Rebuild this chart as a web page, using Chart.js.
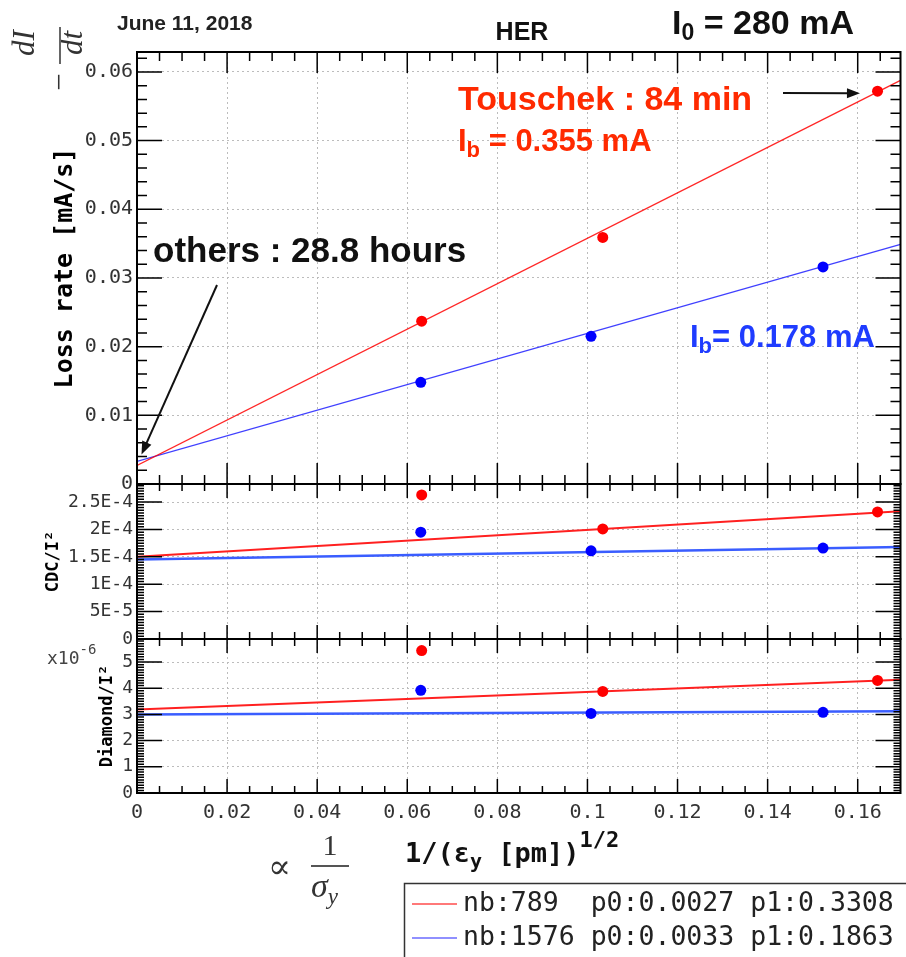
<!DOCTYPE html>
<html>
<head>
<meta charset="utf-8">
<title>HER loss rate</title>
<script src="https://cdn.jsdelivr.net/npm/chart.js@4.4.1/dist/chart.umd.min.js"></script>
<style>
  html, body { margin: 0; padding: 0; background: #fff; }
  canvas { display: block; }
</style>
</head>
<body>
<canvas id="lossChart" width="906" height="957"></canvas>
<script>
// x axis: 1/sqrt(eps_y [pm])
const xMax = 0.1695;
const xTicks = [0, 0.02, 0.04, 0.06, 0.08, 0.1, 0.12, 0.14, 0.16];

// measured points, Ib = 0.355 mA (red) and Ib = 0.178 mA (blue)
const redX = [0.0632, 0.1034, 0.1644];
const blueX = [0.0630, 0.1008, 0.1523];

// loss rate [mA/s]
const lossRed = [0.0237, 0.0359, 0.0572];
const lossBlue = [0.0148, 0.0215, 0.0316];
const lossTicks = [0, 0.01, 0.02, 0.03, 0.04, 0.05, 0.06];
const lossMax = 0.0629;

// linear fits p0 + p1*x of the loss rate
const fitNb = [789, 1576];
const fitP0 = [0.0027, 0.0033];
const fitP1 = [0.3308, 0.1863];

// CDC / I^2
const cdcRed = [2.63e-4, 2.01e-4, 2.32e-4];
const cdcBlue = [1.95e-4, 1.61e-4, 1.66e-4];
const cdcFitP0 = [1.50e-4, 1.45e-4];
const cdcFitP1 = [4.9e-4, 1.35e-4];
const cdcTicks = [0, 5e-5, 1e-4, 1.5e-4, 2e-4, 2.5e-4];
const cdcTickLabels = ['0', '5E-5', '1E-4', '1.5E-4', '2E-4', '2.5E-4'];
const cdcMax = 2.83e-4;

// Diamond / I^2, in units of 1e-6
const diaRed = [5.44, 3.88, 4.30];
const diaBlue = [3.92, 3.04, 3.08];
const diaFitP0 = [3.19, 3.00];
const diaFitP1 = [6.7, 0.7];
const diaTicks = [0, 1, 2, 3, 4, 5];
const diaMax = 5.88;

const RED = '#ff0000';
const BLUE = '#0000ff';
const MONO = "'DejaVu Sans Mono', monospace";
const SANS = "'Liberation Sans', Arial, sans-serif";
const SERIF = "'Liberation Serif', 'DejaVu Serif', serif";

function pts(xs, ys) {
    return xs.map((x, i) => ({ x: x, y: ys[i] }));
}

function fitLine(p0, p1) {
    return [{ x: 0, y: p0 }, { x: xMax, y: p0 + p1 * xMax }];
}

function dots(data, color, axis) {
    return { data: data, yAxisID: axis, backgroundColor: color, borderColor: color,
             borderWidth: 0, pointRadius: 5.5, pointHoverRadius: 5.5, showLine: false };
}

function fit(data, color, width, axis) {
    return { data: data, yAxisID: axis, borderColor: color, borderWidth: width,
             pointRadius: 0, showLine: true, fill: false };
}

function fixedTicks(values) {
    return scale => { scale.ticks = values.map(v => ({ value: v })); };
}

// draws a run of text pieces (for sub/superscripts)
function drawParts(ctx, x, y, parts, color) {
    ctx.fillStyle = color;
    ctx.textAlign = 'left';
    ctx.textBaseline = 'alphabetic';
    for (const [text, font, dy] of parts) {
        ctx.font = font;
        ctx.fillText(text, x, y + (dy || 0));
        x += ctx.measureText(text).width;
    }
    return x;
}

function arrow(ctx, x0, y0, x1, y1) {
    const a = Math.atan2(y1 - y0, x1 - x0);
    const L = 13, W = 5;
    const c = Math.cos(a), s = Math.sin(a);
    ctx.beginPath();
    ctx.moveTo(x0, y0);
    ctx.lineTo(x1 - L * 0.8 * c, y1 - L * 0.8 * s);
    ctx.stroke();
    ctx.beginPath();
    ctx.moveTo(x1, y1);
    ctx.lineTo(x1 - L * c + W * s, y1 - L * s - W * c);
    ctx.lineTo(x1 - L * c - W * s, y1 - L * s + W * c);
    ctx.closePath();
    ctx.fill();
}

// ROOT-style frames with inward tick marks for the three stacked pads
const panelFrames = {
    id: 'panelFrames',
    afterDraw(chart) {
        const { ctx, chartArea: area, scales } = chart;
        const xs = scales.x;
        const pads = [
            { s: scales.yLoss, minor: 0.002, per: 5, yMaj: 25, yMin: 10, xMaj: 21, xMin: 9 },
            { s: scales.yCdc, minor: 5e-6, per: 10, yMaj: 25, yMin: 7, xMaj: 14, xMin: 7 },
            { s: scales.yDia, minor: 0.1, per: 10, yMaj: 25, yMin: 7, xMaj: 14, xMin: 7 }
        ];
        ctx.save();
        ctx.strokeStyle = '#000';
        for (const p of pads) {
            const top = p.s.top, bot = p.s.bottom;
            ctx.lineWidth = 1.5;
            ctx.beginPath();
            const nx = Math.floor(xMax / 0.005 + 1e-6);
            for (let i = 0; i <= nx; i++) {
                const px = xs.getPixelForValue(i * 0.005);
                const len = i % 4 === 0 ? p.xMaj : p.xMin;
                ctx.moveTo(px, top); ctx.lineTo(px, top + len);
                ctx.moveTo(px, bot); ctx.lineTo(px, bot - len);
            }
            const ny = Math.floor(p.s.max / p.minor + 1e-6);
            for (let i = 0; i <= ny; i++) {
                const py = p.s.getPixelForValue(i * p.minor);
                const len = i % p.per === 0 ? p.yMaj : p.yMin;
                ctx.moveTo(area.left, py); ctx.lineTo(area.left + len, py);
                ctx.moveTo(area.right, py); ctx.lineTo(area.right - len, py);
            }
            ctx.stroke();
            ctx.lineWidth = 2;
            ctx.strokeRect(area.left, top, area.right - area.left, bot - top);
        }
        ctx.restore();
    }
};

// titles, arrows, notes and the fit box
const notes = {
    id: 'notes',
    afterDraw(chart) {
        const { ctx, scales } = chart;
        const xs = scales.x, yl = scales.yLoss;
        ctx.save();

        drawParts(ctx, 117, 30, [['June 11, 2018', 'bold 21px ' + SANS]], '#222');
        ctx.font = 'bold 25px ' + SANS;
        ctx.fillStyle = '#111';
        ctx.textAlign = 'center';
        ctx.fillText('HER', 522, 40);
        drawParts(ctx, 672, 34, [['I', 'bold 34px ' + SANS], ['0', 'bold 23px ' + SANS, 6],
                                 [' = 280 mA', 'bold 34px ' + SANS]], '#111');

        // -dI/dt, rotated
        ctx.save();
        ctx.translate(60, 45);
        ctx.rotate(-Math.PI / 2);
        ctx.fillStyle = '#333';
        ctx.textAlign = 'center';
        ctx.textBaseline = 'alphabetic';
        ctx.font = 'italic 31px ' + SERIF;
        ctx.fillText('dI', 2, -26);
        ctx.fillText('dt', 2, 22);
        ctx.font = '31px ' + SERIF;
        ctx.fillText('\u2212', -37, 9);
        ctx.strokeStyle = '#666';
        ctx.lineWidth = 2;
        ctx.beginPath();
        ctx.moveTo(-19, 0); ctx.lineTo(18, 0);
        ctx.stroke();
        ctx.restore();

        // annotations in the loss pad
        const RED_TXT = '#ff2a00', BLUE_TXT = '#1f3cff';
        drawParts(ctx, 458, 110, [['Touschek : 84 min', 'bold 34px ' + SANS]], RED_TXT);
        drawParts(ctx, 458, 151, [['I', 'bold 31px ' + SANS], ['b', 'bold 22px ' + SANS, 6],
                                  [' = 0.355 mA', 'bold 31px ' + SANS]], RED_TXT);
        drawParts(ctx, 153, 262, [['others : 28.8 hours', 'bold 35px ' + SANS]], '#111');
        drawParts(ctx, 690, 347, [['I', 'bold 31px ' + SANS], ['b', 'bold 22px ' + SANS, 6],
                                  ['= 0.178 mA', 'bold 31px ' + SANS]], BLUE_TXT);

        ctx.strokeStyle = '#111';
        ctx.fillStyle = '#111';
        ctx.lineWidth = 2;
        arrow(ctx, 783, 93, xs.getPixelForValue(0.1605), yl.getPixelForValue(0.0569));
        arrow(ctx, 217, 285, xs.getPixelForValue(0.001), yl.getPixelForValue(0.0043));

        // x10^-6 multiplier of the Diamond pad
        drawParts(ctx, 47, 664, [['x10', '18px ' + MONO], ['-6', '14px ' + MONO, -10]], '#444');

        // x axis title
        drawParts(ctx, 405, 862, [['1/(\u03b5', 'bold 27px ' + MONO], ['y', 'bold 20px ' + MONO, 6],
                                  [' [pm])', 'bold 27px ' + MONO], ['1/2', 'bold 22px ' + MONO, -15]], '#111');

        // proportional to 1/sigma_y
        ctx.fillStyle = '#333';
        ctx.font = "34px 'DejaVu Serif', serif";
        ctx.textAlign = 'left';
        ctx.fillText('\u221d', 268, 878);
        ctx.textAlign = 'center';
        ctx.font = '30px ' + SERIF;
        ctx.fillText('1', 330, 855);
        ctx.strokeStyle = '#555';
        ctx.lineWidth = 2;
        ctx.beginPath();
        ctx.moveTo(311, 866); ctx.lineTo(349, 866);
        ctx.stroke();
        drawParts(ctx, 311, 897, [['\u03c3', 'italic 34px ' + SERIF], ['y', 'italic 23px ' + SERIF, 7]], '#333');

        // fit results box
        ctx.strokeStyle = '#333';
        ctx.lineWidth = 1.5;
        ctx.strokeRect(404.5, 883.5, 520, 90);
        const rowY = [904, 938];
        const rowColor = ['#ff4d4d', '#6b6bff'];
        fitNb.forEach((nb, i) => {
            ctx.strokeStyle = rowColor[i];
            ctx.lineWidth = 1.5;
            ctx.beginPath();
            ctx.moveTo(412, rowY[i]); ctx.lineTo(457, rowY[i]);
            ctx.stroke();
            const text = 'nb:' + String(nb).padEnd(5) + 'p0:' + fitP0[i].toFixed(4) + ' p1:' + fitP1[i].toFixed(4);
            ctx.fillStyle = '#222';
            ctx.font = '26.5px ' + MONO;
            ctx.textAlign = 'left';
            ctx.textBaseline = 'middle';
            ctx.fillText(text, 463, rowY[i]);
        });
        ctx.restore();
    }
};

const gridStyle = { color: '#bcbcbc', lineWidth: 1, drawTicks: false };
const borderStyle = { display: false, dash: [2, 3] };

function yScale(weight, stackWeight, max, tickValues, fontSize, labelFn, title) {
    return {
        type: 'linear',
        position: 'left',
        stack: 'pads',
        stackWeight: stackWeight,
        weight: weight,
        min: 0,
        max: max,
        afterBuildTicks: fixedTicks(tickValues),
        afterFit: scale => { scale.width = 137; },
        grid: gridStyle,
        border: borderStyle,
        ticks: {
            autoSkip: false,
            padding: 4,
            color: '#333',
            font: { family: MONO, size: fontSize },
            callback: labelFn
        },
        title: title
    };
}

new Chart(document.getElementById('lossChart'), {
    type: 'scatter',
    data: {
        datasets: [
            dots(pts(redX, lossRed), RED, 'yLoss'),
            dots(pts(blueX, lossBlue), BLUE, 'yLoss'),
            dots(pts(redX, cdcRed), RED, 'yCdc'),
            dots(pts(blueX, cdcBlue), BLUE, 'yCdc'),
            dots(pts(redX, diaRed), RED, 'yDia'),
            dots(pts(blueX, diaBlue), BLUE, 'yDia'),
            fit(fitLine(fitP0[0], fitP1[0]), 'rgba(255,0,0,0.85)', 1.3, 'yLoss'),
            fit(fitLine(fitP0[1], fitP1[1]), 'rgba(30,30,255,0.85)', 1.3, 'yLoss'),
            fit(fitLine(cdcFitP0[0], cdcFitP1[0]), '#ff2020', 2, 'yCdc'),
            fit(fitLine(cdcFitP0[1], cdcFitP1[1]), '#3a5dff', 2.5, 'yCdc'),
            fit(fitLine(diaFitP0[0], diaFitP1[0]), '#ff2020', 2, 'yDia'),
            fit(fitLine(diaFitP0[1], diaFitP1[1]), '#3a5dff', 2.5, 'yDia')
        ]
    },
    options: {
        responsive: false,
        animation: false,
        layout: { padding: { top: 52, left: 0, right: 2, bottom: 124 } },
        plugins: {
            legend: { display: false },
            tooltip: { enabled: false }
        },
        scales: {
            x: {
                type: 'linear',
                position: 'bottom',
                min: 0,
                max: xMax,
                afterBuildTicks: fixedTicks(xTicks),
                afterFit: scale => { scale.height = 40; },
                grid: gridStyle,
                border: borderStyle,
                ticks: {
                    autoSkip: false,
                    maxRotation: 0,
                    padding: 8,
                    color: '#333',
                    font: { family: MONO, size: 20 },
                    callback: v => (v === 0 ? '0' : String(+v.toFixed(2)))
                }
            },
            yLoss: yScale(3, 432, lossMax, lossTicks, 20,
                v => (v === 0 ? '0' : v.toFixed(2)),
                { display: true, text: 'Loss rate [mA/s]', color: '#000',
                  font: { family: MONO, size: 25, weight: 'bold' }, padding: { top: 50, bottom: 0 } }),
            yCdc: yScale(2, 155, cdcMax, cdcTicks, 18,
                (v, i) => cdcTickLabels[i],
                { display: true, text: 'CDC/I\u00b2', color: '#000',
                  font: { family: MONO, size: 17, weight: 'bold' }, padding: { top: 43, bottom: 0 } }),
            yDia: yScale(1, 154, diaMax, diaTicks, 18,
                v => String(v),
                { display: true, text: 'Diamond/I\u00b2', color: '#000',
                  font: { family: MONO, size: 17, weight: 'bold' }, padding: { top: 97, bottom: 0 } })
        }
    },
    plugins: [panelFrames, notes]
});
</script>
</body>
</html>
